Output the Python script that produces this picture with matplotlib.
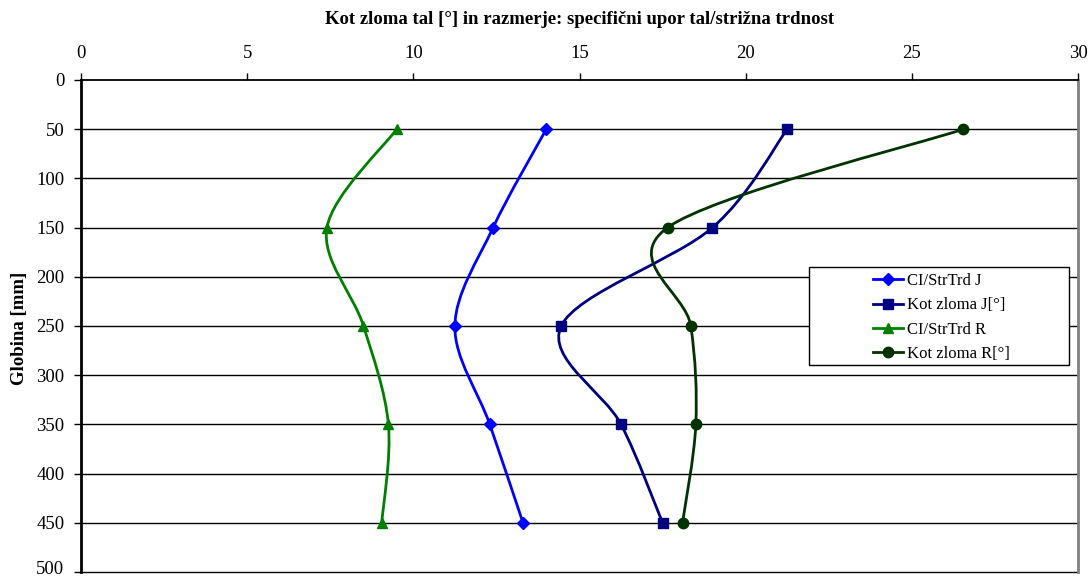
import matplotlib
matplotlib.use('Agg')
import matplotlib.pyplot as plt
import matplotlib.transforms as mtransforms
from matplotlib.path import Path
from matplotlib.patches import PathPatch, Rectangle
from matplotlib.lines import Line2D
import numpy as np

depth = [50, 150, 250, 350, 450]
ci_j = [14.0, 12.4, 11.25, 12.3, 13.3]
kot_j = [21.25, 19.0, 14.45, 16.25, 17.5]
ci_r = [9.5, 7.4, 8.5, 9.25, 9.05]
kot_r = [26.55, 17.65, 18.35, 18.5, 18.1]
labels = ['CI/StrTrd J', 'Kot zloma J[°]', 'CI/StrTrd R', 'Kot zloma R[°]']
x_ticks = [0, 5, 10, 15, 20, 25, 30]
y_ticks = list(range(0, 501, 50))
title = 'Kot zloma tal [°] in razmerje: specifični upor tal/strižna trdnost'
ylabel = 'Globina [mm]'

plt.rcParams['font.family'] = ['Liberation Serif', 'DejaVu Serif']

W, H = 1090, 579
fig = plt.figure(figsize=(W / 100, H / 100), dpi=100)
L, R, T, B = 81, 1078, 80, 572
ax = fig.add_axes([L / W, 1 - B / H, (R - L) / W, (B - T) / H])
ax.set_xlim(0, 30)
ax.set_ylim(500, 0)
ax.xaxis.tick_top()
ax.set_xticks(x_ticks)
ax.set_yticks(y_ticks)
ax.tick_params(axis='x', direction='out', length=5, width=1, labelsize=13.5, pad=8, color='black')
ax.tick_params(axis='y', direction='out', length=5, width=1, labelsize=13.5, pad=7, color='black')
for t in ax.get_yticklabels():
    t.set_verticalalignment('center_baseline')
for yv in y_ticks[1:]:
    ax.axhline(yv, color='black', lw=1, zorder=1, clip_on=False)
ax.spines['left'].set_linewidth(2)
ax.spines['top'].set_linewidth(1.3)
ax.spines['right'].set_color('#808080')
ax.spines['right'].set_linewidth(2)
ax.spines['bottom'].set_visible(False)


def smooth_path(xs, ys):
    pts = np.column_stack([xs, ys]).astype(float)
    n = len(pts)
    verts = [pts[0]]
    codes = [Path.MOVETO]
    for i in range(n - 1):
        p0 = pts[i - 1] if i > 0 else pts[i]
        p1 = pts[i]
        p2 = pts[i + 1]
        p3 = pts[i + 2] if i + 2 < n else pts[i + 1]
        c1 = p1 + (p2 - p0) / 6
        c2 = p2 - (p3 - p1) / 6
        verts += [c1, c2, p2]
        codes += [Path.CURVE4] * 3
    return Path(verts, codes)


series = [ci_j, kot_j, ci_r, kot_r]
colors = ['#0000FF', '#000080', '#008000', '#003300']
markers = ['D', 's', '^', 'o']
msizes = [6, 7.5, 7.5, 7.5]
handles = []
for vals, c, m, ms, lab in zip(series, colors, markers, msizes, labels):
    ax.add_patch(PathPatch(smooth_path(vals, depth), facecolor='none', edgecolor=c, lw=2, zorder=3))
    ax.plot(vals, depth, linestyle='none', marker=m, markersize=ms, color=c, zorder=4)
    handles.append(Line2D([], [], color=c, lw=2, marker=m, markersize=ms))

# legend frame (wide box with entries centred, as in the reference)
box_l, box_r, box_t, box_b = 809, 1069, 267, 365
frame = Rectangle((box_l / W, 1 - box_b / H), (box_r - box_l) / W, (box_b - box_t) / H,
                  transform=fig.transFigure, facecolor='white', edgecolor='black', lw=1, zorder=5)
fig.add_artist(frame)
leg = fig.legend(handles, labels, loc='upper left', bbox_to_anchor=(873 / W, 1 - 273 / H),
                 fontsize=12, frameon=False, borderpad=0.0, labelspacing=0.5,
                 handlelength=1.8, handletextpad=0.25, borderaxespad=0)
leg.set_zorder(6)

fig.text((L + R) / 2 / W, 1 - 20 / H, title, ha='center', va='center', fontsize=13.5, fontweight='bold')
fig.text(20 / W, 1 - 328 / H, ylabel, ha='center', va='center', rotation=90, fontsize=13.5, fontweight='bold')

fig.canvas.draw()
last = ax.get_yticklabels()[-1]
last.set_transform(last.get_transform() + mtransforms.ScaledTranslation(0, 4 / 100, fig.dpi_scale_trans))

fig.savefig('out.png', dpi=100)
